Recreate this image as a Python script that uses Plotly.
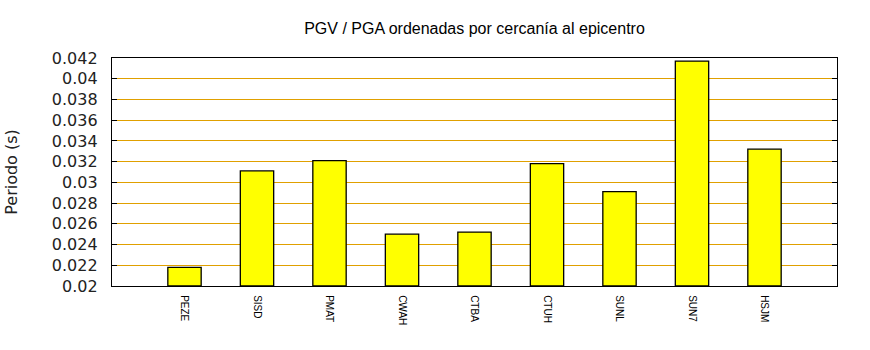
import plotly.graph_objects as go

# Estaciones ordenadas por cercanía al epicentro y su periodo PGV/PGA
estaciones = ["PEZE", "SISD", "PMAT", "CWAH", "CTBA", "CTUH", "SUNL", "SUN7", "HSJM"]
periodos = [0.0218, 0.0311, 0.0321, 0.0250, 0.0252, 0.0318, 0.0291, 0.0417, 0.0332]
y_ticks = [0.02, 0.022, 0.024, 0.026, 0.028, 0.03, 0.032, 0.034, 0.036, 0.038, 0.04, 0.042]
y_tick_text = ["0.02", "0.022", "0.024", "0.026", "0.028", "0.03", "0.032",
               "0.034", "0.036", "0.038", "0.04", "0.042"]

posiciones = list(range(1, len(estaciones) + 1))

fig = go.Figure(
    go.Bar(
        x=posiciones,
        y=[p - 0.02 for p in periodos],
        base=0.02,
        width=0.46,
        marker=dict(color="#ffff00", line=dict(color="black", width=1.3)),
        hoverinfo="skip",
    )
)

fig.update_layout(
    width=870,
    height=350,
    margin=dict(l=112, r=33, t=58, b=64),
    paper_bgcolor="white",
    plot_bgcolor="white",
    showlegend=False,
    title=dict(
        text="PGV / PGA ordenadas por cercanía al epicentro",
        x=(112 + 837) / 2 / 870,
        xanchor="center",
        y=1 - 28 / 350,
        yanchor="middle",
        font=dict(family="Liberation Sans", size=16, color="black"),
    ),
)

fig.update_xaxes(
    range=[0, len(estaciones) + 1],
    tickmode="array",
    tickvals=posiciones,
    ticktext=estaciones,
    tickangle=90,
    ticks="",
    showgrid=False,
    zeroline=False,
    showline=True,
    linecolor="black",
    linewidth=1.3,
    mirror=True,
    tickfont=dict(family="Liberation Sans", size=10, color="black"),
    ticklabelstandoff=6,
)

fig.update_yaxes(
    range=[0.02, 0.042],
    tickmode="array",
    tickvals=y_ticks,
    ticktext=y_tick_text,
    ticks="inside",
    ticklen=5,
    tickwidth=1.3,
    tickcolor="black",
    showgrid=True,
    gridcolor="#e0a000",
    gridwidth=1,
    zeroline=False,
    showline=True,
    linecolor="black",
    linewidth=1.3,
    mirror="ticks",
    tickfont=dict(family="DejaVu Sans", size=16, color="#222222"),
    ticklabelstandoff=10,
    title=dict(
        text="Periodo (s)",
        font=dict(family="DejaVu Sans", size=16, color="#222222"),
        standoff=30,
    ),
)

fig.write_html("out.html")
